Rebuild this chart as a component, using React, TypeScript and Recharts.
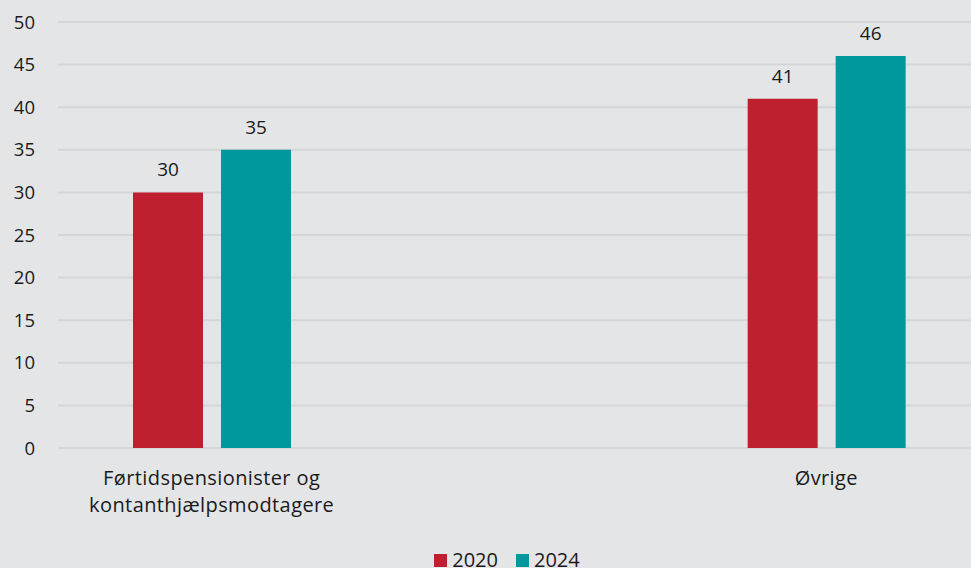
import React from "react";
import { BarChart, Bar, XAxis, YAxis, CartesianGrid, Legend, LabelList, Text } from "recharts";

const categories = ["Førtidspensionister og kontanthjælpsmodtagere", "", "Øvrige"];
const values2020 = [30, null, 41];
const values2024 = [35, null, 46];
const yTicks = [0, 5, 10, 15, 20, 25, 30, 35, 40, 45, 50];

const data = categories.map((c, i) => ({ name: c, y2020: values2020[i], y2024: values2024[i] }));

const FONT = "'Open Sans', 'Noto Sans', sans-serif";
const TXT = "#1a1a1a";

const XTick = (props: any) => {
  const { x, y, payload } = props;
  return (
    <Text
      x={x}
      y={y + 15}
      width={300}
      textAnchor="middle"
      verticalAnchor="start"
      lineHeight={27}
      fontSize={20}
      fontFamily={FONT}
      fill={TXT}
      style={{ letterSpacing: 0.4 }}
    >
      {payload.value}
    </Text>
  );
};

const LegendContent = () => (
  <div
    style={{
      display: "flex",
      justifyContent: "center",
      fontFamily: FONT,
      fontSize: 20,
      color: TXT,
      width: 971,
      boxSizing: "border-box",
      paddingLeft: 43,
      marginTop: 4,
    }}
  >
    {[
      { label: "2020", color: "#c01f30" },
      { label: "2024", color: "#00979d" },
    ].map((it, i) => (
      <div key={it.label} style={{ display: "flex", alignItems: "center", marginLeft: i ? 18 : 0 }}>
        <span style={{ display: "inline-block", width: 13, height: 13, background: it.color, marginRight: 5 }} />
        <span style={{ lineHeight: "24px" }}>{it.label}</span>
      </div>
    ))}
  </div>
);

const labelStyle = { fontSize: 19, fontFamily: FONT, fill: TXT };

export default function App() {
  return (
    <div style={{ position: "fixed", left: 0, top: 0, width: 971, height: 568, overflow: "hidden", background: "#e4e5e7" }}>
      <BarChart width={980} height={568} data={data} margin={{ top: 22, right: 0, bottom: 0, left: 0 }} barGap={18}>
        <CartesianGrid vertical={false} stroke="#d4d5d7" strokeWidth={2} />
        <XAxis
          dataKey="name"
          axisLine={false}
          tickLine={false}
          interval={0}
          height={96}
          tick={<XTick />}
        />
        <YAxis
          domain={[0, 50]}
          ticks={yTicks}
          axisLine={false}
          tickLine={false}
          width={58}
          tickSize={6}
          tickMargin={17}
          tick={{ fontSize: 18.5, fontFamily: FONT, fill: TXT }}
        />
        <Legend
          verticalAlign="bottom"
          content={<LegendContent />}
          wrapperStyle={{ left: 0, width: 971, height: 24 }}
        />
        <Bar dataKey="y2020" name="2020" fill="#c01f30" barSize={70} isAnimationActive={false}>
          <LabelList dataKey="y2020" position="top" offset={16} style={labelStyle} />
        </Bar>
        <Bar dataKey="y2024" name="2024" fill="#00979d" barSize={70} isAnimationActive={false}>
          <LabelList dataKey="y2024" position="top" offset={16} style={labelStyle} />
        </Bar>
      </BarChart>
    </div>
  );
}
